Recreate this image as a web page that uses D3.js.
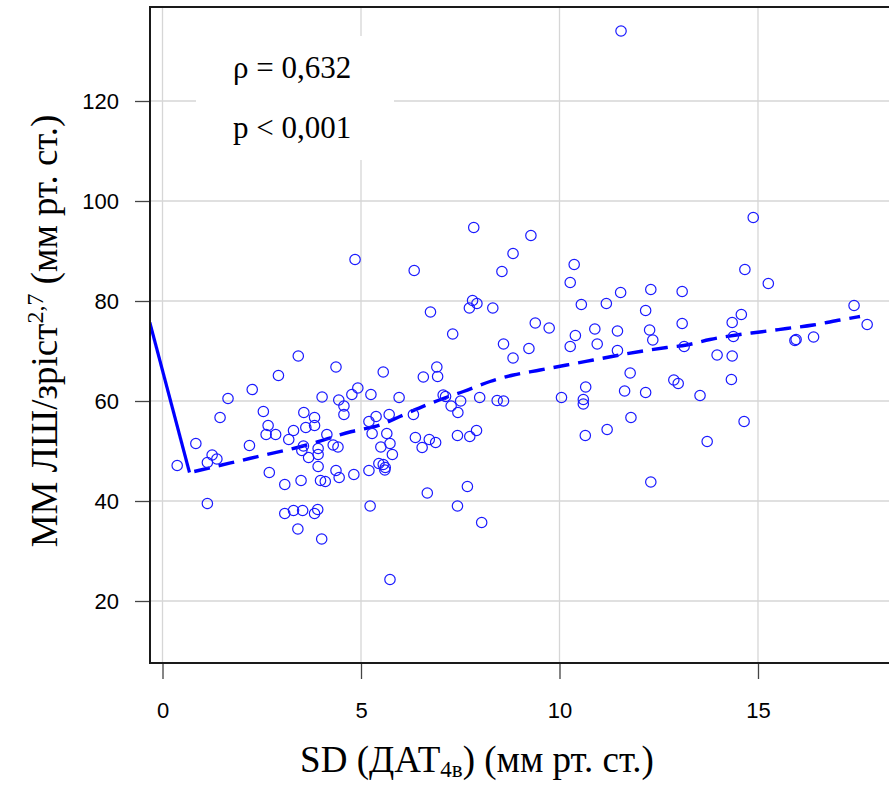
<!DOCTYPE html>
<html>
<head>
<meta charset="utf-8">
<script src="https://cdn.jsdelivr.net/npm/d3@7"></script>
<style>
  body { margin: 0; background: #fff; }
  svg { display: block; }
</style>
</head>
<body>
<svg id="chart" width="889" height="785"></svg>
<script>
// SD (ДАТ 4в), мм рт. ст.
var sdValues = [
  4.85, 3.42, 2.92, 2.26, 1.65, 1.45, 0.84, 2.19, 4.37, 5.56,
  4.92, 4.77, 5.25, 5.96, 4.02, 4.44, 4.57, 4.57, 2.54, 3.56,
  3.83, 3.83, 3.61, 2.66, 2.61, 2.85, 3.30, 3.18, 4.14, 5.20,
  5.38, 5.71, 5.28, 5.65, 5.50, 5.73, 4.30, 4.42, 3.92, 3.55,
  0.37, 1.13, 1.25, 1.37, 1.13, 3.51, 3.68, 3.92, 3.92, 2.69,
  3.08, 3.49, 3.98, 4.10, 4.37, 4.45, 4.82, 5.20, 5.79, 5.45,
  5.56, 5.61, 5.60, 3.08, 3.30, 3.53, 3.83, 3.91, 3.41, 4.01,
  5.23, 5.73, 7.84, 9.28, 8.83, 8.55, 6.34, 10.37, 10.27, 11.54,
  7.81, 7.92, 7.73, 8.32, 6.75, 10.55, 11.18, 7.31, 9.39, 9.74,
  10.40, 10.89, 11.46, 8.59, 9.23, 10.27, 10.95, 11.46, 8.83, 6.57,
  6.91, 6.93, 11.78, 11.64, 10.66, 10.05, 10.60, 10.60, 7.07, 7.13,
  7.51, 7.99, 8.43, 8.59, 7.27, 7.44, 6.32, 6.37, 6.54, 6.72,
  6.88, 7.43, 7.74, 7.91, 11.20, 10.65, 11.80, 6.67, 7.68, 7.43,
  8.04, 14.88, 14.67, 15.26, 12.30, 13.09, 12.17, 14.58, 14.35, 17.42,
  17.75, 12.27, 12.35, 13.09, 14.38, 15.96, 15.93, 16.40, 13.14, 13.97,
  14.35, 12.88, 12.99, 14.33, 12.17, 13.54, 14.65, 13.72, 12.30, 11.55
];
// ММ ЛШ/зріст^2,7, мм рт. ст.
var lvmValues = [
  88.3, 69.0, 65.1, 62.3, 60.5, 56.7, 51.5, 51.1, 66.8, 65.8,
  62.6, 61.3, 61.3, 60.7, 60.8, 60.2, 59.0, 57.3, 57.9, 57.7,
  56.7, 55.1, 54.7, 55.1, 53.3, 53.3, 54.1, 52.3, 53.3, 55.9,
  56.9, 57.3, 53.5, 53.5, 50.8, 51.5, 51.2, 50.8, 50.5, 51.0,
  47.1, 47.7, 49.2, 48.4, 39.5, 50.1, 48.7, 49.3, 46.9, 45.7,
  43.3, 44.1, 44.1, 43.9, 46.1, 44.7, 45.3, 46.1, 49.3, 47.5,
  47.3, 46.7, 46.2, 37.5, 38.1, 38.1, 37.5, 38.3, 34.4, 32.4,
  39.0, 24.3, 94.7, 93.1, 89.5, 85.9, 86.1, 87.3, 83.7, 81.7,
  80.1, 79.5, 78.6, 78.6, 77.8, 79.3, 79.5, 73.4, 75.6, 74.6,
  73.1, 74.4, 74.0, 71.4, 70.5, 70.9, 71.4, 70.1, 68.6, 64.8,
  66.8, 64.9, 65.6, 62.0, 62.8, 60.7, 60.3, 59.4, 61.2, 60.9,
  60.0, 60.7, 60.1, 60.0, 59.0, 57.7, 57.3, 52.7, 50.7, 52.3,
  51.7, 53.1, 52.9, 54.1, 54.3, 53.1, 56.7, 41.6, 42.9, 39.0,
  35.7, 96.7, 86.3, 83.5, 82.3, 81.9, 78.1, 77.3, 75.7, 79.1,
  75.3, 74.2, 72.2, 75.5, 72.9, 72.3, 72.1, 72.8, 70.9, 69.2,
  69.0, 64.2, 63.5, 64.3, 61.7, 61.1, 55.9, 51.9, 43.8, 134.0
];

// solid segment and smoothed (dashed) curve
var solidX = [-0.32, 0.68];
var solidY = [75.7, 45.7];
var smoothX = [0.80, 0.96, 2.19, 3.63, 4.77, 5.48, 5.98, 6.65, 7.07, 7.58, 8.25, 8.84, 9.51,
  10.18, 10.85, 11.52, 12.03, 12.70, 13.20, 13.79, 14.46, 15.05, 15.72, 16.39, 17.07, 17.57];
var smoothY = [45.9, 46.2, 48.5, 51.2, 53.9, 55.2, 56.9, 59.2, 60.5, 61.9, 63.9, 65.2, 66.2,
  67.2, 68.2, 69.2, 69.9, 70.7, 71.2, 72.3, 73.2, 73.8, 74.5, 75.2, 76.2, 76.9];

var xTicks = [0, 5, 10, 15];
var yTicks = [20, 40, 60, 80, 100, 120];
var statLines = ["ρ = 0,632", "p < 0,001"];

(function() {
    var plotLeft = 150, plotTop = 7, plotBottom = 663, plotRight = 889;
    var serif = "'Liberation Serif', 'Times New Roman', serif";
    var sans = "'Liberation Sans', Arial, sans-serif";

    var svg = d3.select("#chart");

    var x = d3.scaleLinear().domain([-0.315, 18.3]).range([plotLeft, plotRight]);
    var y = d3.scaleLinear().domain([7.6, 138.8]).range([plotBottom, plotTop]);

    svg.append("defs").append("clipPath")
        .attr("id", "plotClip")
        .append("rect")
        .attr("x", plotLeft)
        .attr("y", plotTop)
        .attr("width", plotRight - plotLeft)
        .attr("height", plotBottom - plotTop);

    // grid
    var grid = svg.append("g").attr("class", "grid");
    grid.selectAll("line.gx")
        .data(xTicks)
        .enter().append("line")
        .attr("class", "gx")
        .attr("x1", function(d) { return x(d); })
        .attr("x2", function(d) { return x(d); })
        .attr("y1", plotTop)
        .attr("y2", plotBottom)
        .style("stroke", "#d6d6d6")
        .style("stroke-width", 1.3);
    grid.selectAll("line.gy")
        .data(yTicks)
        .enter().append("line")
        .attr("class", "gy")
        .attr("x1", plotLeft)
        .attr("x2", plotRight)
        .attr("y1", function(d) { return y(d); })
        .attr("y2", function(d) { return y(d); })
        .style("stroke", "#d6d6d6")
        .style("stroke-width", 1.3);

    // white box behind the statistics
    svg.append("rect")
        .attr("x", 196)
        .attr("y", 36)
        .attr("width", 198)
        .attr("height", 124)
        .style("fill", "#fff");

    svg.selectAll("text.stat")
        .data(statLines)
        .enter().append("text")
        .attr("class", "stat")
        .attr("x", 233)
        .attr("y", function(d, i) { return 78 + i * 60; })
        .style("font-family", serif)
        .style("font-size", "31px")
        .style("fill", "#000")
        .text(function(d) { return d; });

    // lines
    var plot = svg.append("g").attr("clip-path", "url(#plotClip)");
    var line = d3.line()
        .x(function(d) { return x(d[0]); })
        .y(function(d) { return y(d[1]); });

    plot.append("path")
        .datum(d3.zip(solidX, solidY))
        .attr("d", line)
        .style("fill", "none")
        .style("stroke", "#0000ff")
        .style("stroke-width", 3.2);

    plot.append("path")
        .datum(d3.zip(smoothX, smoothY))
        .attr("d", line.curve(d3.curveMonotoneX))
        .style("fill", "none")
        .style("stroke", "#0000ff")
        .style("stroke-width", 3.4)
        .style("stroke-dasharray", "16,9");

    // points
    plot.selectAll("circle")
        .data(d3.zip(sdValues, lvmValues))
        .enter().append("circle")
        .attr("cx", function(d) { return x(d[0]); })
        .attr("cy", function(d) { return y(d[1]); })
        .attr("r", 5.2)
        .style("fill", "none")
        .style("stroke", "#1a1aff")
        .style("stroke-width", 1.2);

    // axes
    var xAxis = svg.append("g")
        .attr("transform", "translate(0," + plotBottom + ")")
        .call(d3.axisBottom(x).tickValues(xTicks).tickSize(16).tickPadding(23));
    var yAxis = svg.append("g")
        .attr("transform", "translate(" + plotLeft + ",0)")
        .call(d3.axisLeft(y).tickValues(yTicks).tickSize(15).tickPadding(16));

    [xAxis, yAxis].forEach(function(ax) {
        ax.select(".domain").remove();
        ax.selectAll(".tick line").style("stroke", "#444").style("stroke-width", 1.3);
        ax.selectAll(".tick text")
            .style("font-family", sans)
            .style("font-size", "22px")
            .style("fill", "#000");
    });

    // frame: top, left, bottom
    svg.append("path")
        .attr("d", "M" + (plotRight + 2) + "," + plotTop + "H" + plotLeft + "V" + plotBottom + "H" + (plotRight + 2))
        .style("fill", "none")
        .style("stroke", "#1a1a1a")
        .style("stroke-width", 2);

    // axis titles
    var xTitle = svg.append("text")
        .attr("x", 477)
        .attr("y", 772)
        .attr("text-anchor", "middle")
        .style("font-family", serif)
        .style("font-size", "37px")
        .style("fill", "#000");
    xTitle.append("tspan").text("SD (ДАТ");
    xTitle.append("tspan").attr("dy", 5).style("font-size", "23px").text("4в");
    xTitle.append("tspan").attr("dy", -5).text(") (мм рт. ст.)");

    var yTitle = svg.append("text")
        .attr("transform", "translate(57,331) rotate(-90)")
        .attr("text-anchor", "middle")
        .style("font-family", serif)
        .style("font-size", "37px")
        .style("fill", "#000");
    yTitle.append("tspan").text("ММ ЛШ/зріст");
    yTitle.append("tspan").attr("dy", -14).style("font-size", "24px").text("2,7");
    yTitle.append("tspan").attr("dy", 14).text(" (мм рт. ст.)");
})();
</script>
</body>
</html>
